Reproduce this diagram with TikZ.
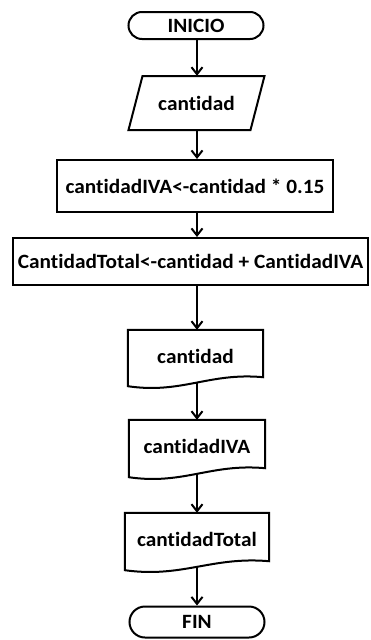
\documentclass[tikz,border=0pt]{standalone}
\usepackage{fontspec}
\setmainfont{Carlito}[FakeStretch=1.05, Ligatures=NoCommon]
\usetikzlibrary{shapes.misc,arrows.meta,calc}
\newcommand\docshape[1]{%
  \draw[shp] (#1.north west) -- (#1.north east) -- ([yshift=5.6pt]#1.south east)
    .. controls ($(#1.south west)!0.6!(#1.south east)+(0,10.6pt)$) and ($(#1.south west)!0.4!(#1.south east)+(0,-11.4pt)$)
    .. ([yshift=-3.4pt]#1.south west) -- cycle;}
\begin{document}
\begin{tikzpicture}[x=1pt,y=-1pt,
  every node/.style={font=\fontsize{20.3}{24}\selectfont\bfseries, inner sep=0pt},
  term/.style={draw, rounded rectangle, line width=2pt, minimum width=135pt},
  box/.style={draw, rectangle, line width=2pt},
  plain/.style={rectangle},
  shp/.style={line width=2pt, line join=miter},
  arr/.style={line width=2pt, -{Straight Barb[length=7pt,width=11pt]}}]
\useasboundingbox (0,0) rectangle (370,640);
\coordinate (col) at (197,0);
\node[term, minimum height=27pt] (inicio) at (196,25.5) {INICIO};
\node[plain, minimum width=122pt, minimum height=54pt] (entrada) at (196.5,103) {cantidad};
\draw[shp] ($(entrada.center)+(-54pt,27pt)$) -- ($(entrada.center)+(68pt,27pt)$)
  -- ($(entrada.center)+(54pt,-27pt)$) -- ($(entrada.center)+(-68pt,-27pt)$) -- cycle;
\node[box, minimum width=276pt, minimum height=52pt] (calc1) at (195,186) {cantidadIVA<-cantidad * 0.15};
\node[box, minimum width=355pt, minimum height=47pt] (calc2) at (190.5,261.5) {CantidadTotal<-cantidad + CantidadIVA};
\node[plain, minimum width=135pt, minimum height=52.6pt] (out1) at (195.5,356.3) {cantidad};
\docshape{out1}
\node[plain, minimum width=136pt, minimum height=53.6pt] (out2) at (197,446.8) {cantidadIVA};
\docshape{out2}
\node[plain, minimum width=144pt, minimum height=53.6pt] (out3) at (197,539.8) {cantidadTotal};
\docshape{out3}
\node[term, minimum height=31pt] (fin) at (197,622) {FIN};
\draw[arr] (inicio.south -| col) -- (entrada.north -| col);
\draw[arr] (entrada.south -| col) -- (calc1.north -| col);
\draw[arr] (calc1.south -| col) -- (calc2.north -| col);
\draw[arr] (calc2.south -| col) -- (out1.north -| col);
\draw[arr] (out1.south -| col) -- (out2.north -| col);
\draw[arr] (out2.south -| col) -- (out3.north -| col);
\draw[arr] (out3.south -| col) -- (fin.north -| col);
\end{tikzpicture}
\end{document}
